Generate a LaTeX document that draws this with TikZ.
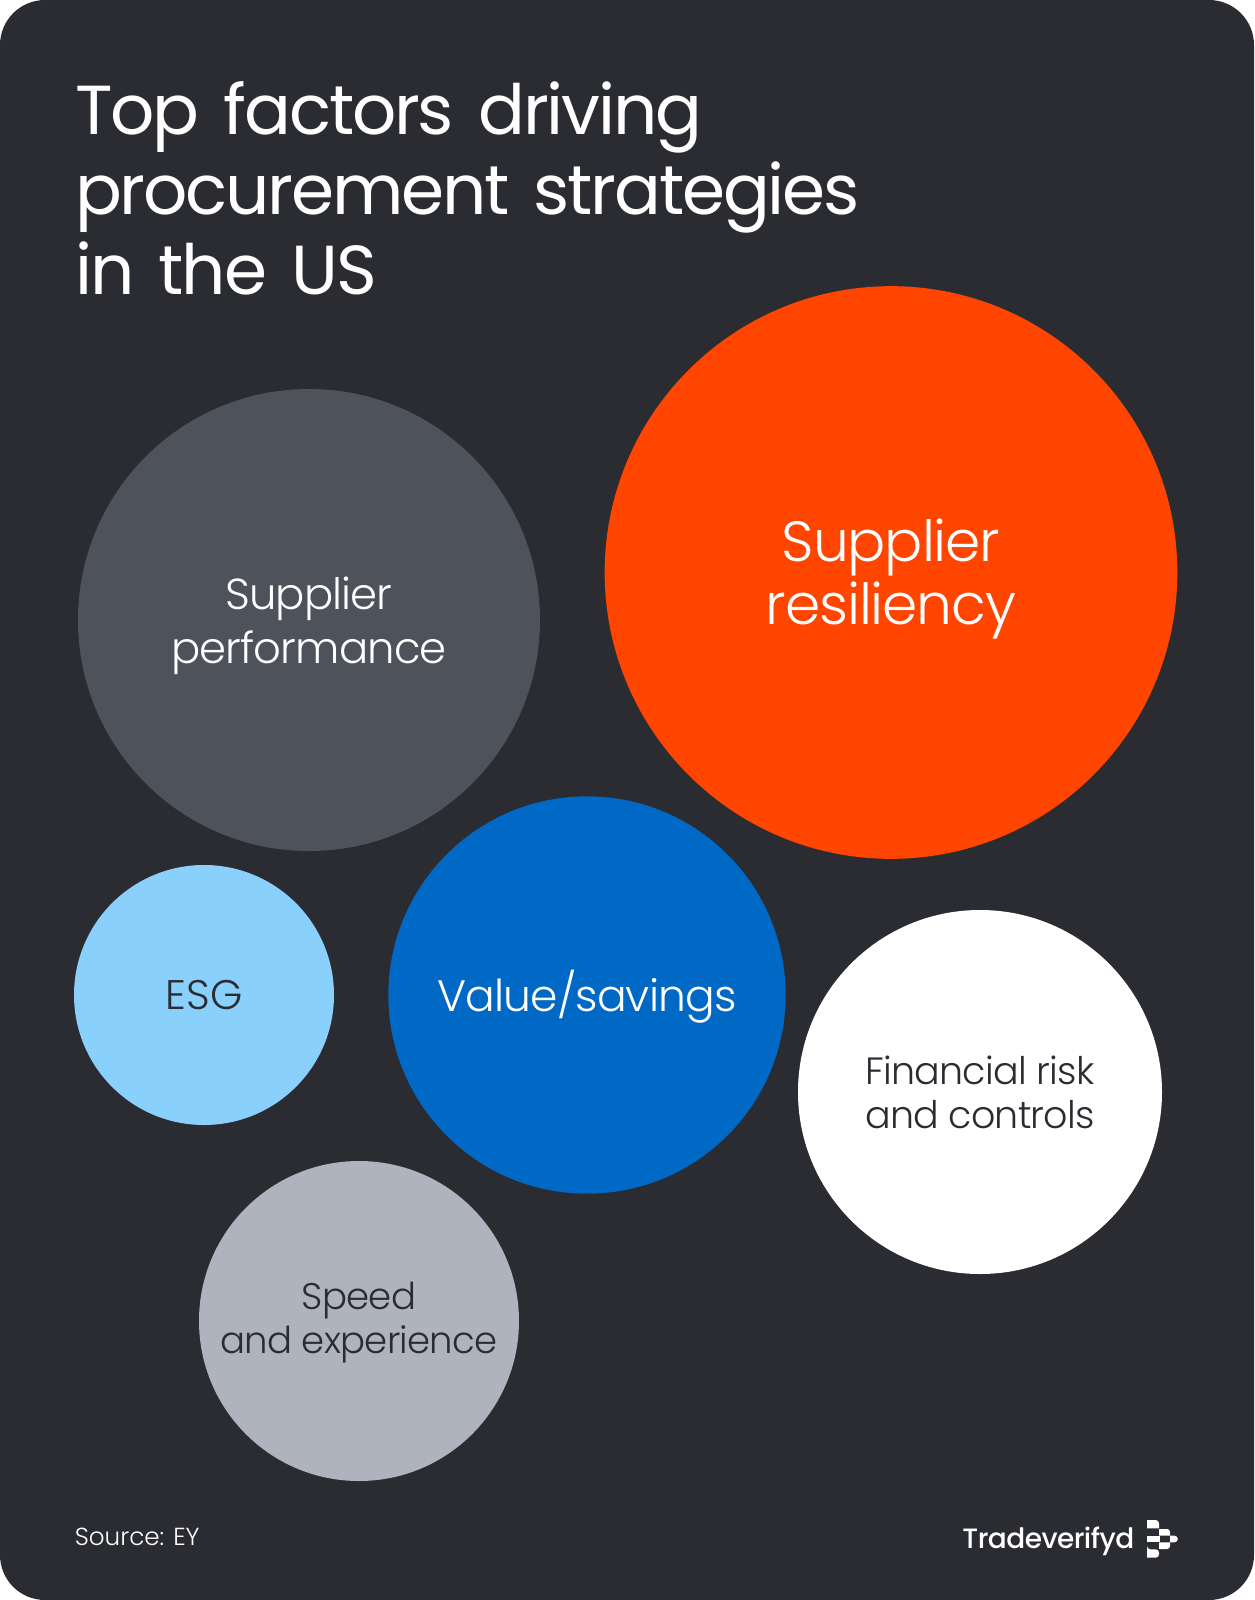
\documentclass[tikz,border=0pt]{standalone}
\usepackage{fontspec}
\setmainfont{Poppins Light}[LetterSpace=-2]
\newfontfamily\headfont{Poppins}[LetterSpace=-3.2,WordSpace=1.5]
\newfontfamily\brandfont{Poppins Medium}[LetterSpace=-2]
\newfontfamily\plainfont{Poppins Light}
\newcommand{\topgap}[1]{\rule{0pt}{#1pt}}
\definecolor{cardbg}{HTML}{2A2C32}
\definecolor{resilient}{HTML}{FF4500}
\definecolor{perform}{HTML}{4D525B}
\definecolor{esgblue}{HTML}{8AD0FC}
\definecolor{valueblue}{HTML}{0068C5}
\definecolor{speedgrey}{HTML}{AEB3BD}
\begin{document}
\begin{tikzpicture}[x=0.75pt, y=-0.75pt,
  bubble/.style = {circle, inner sep=0pt, align=center},
  title/.style = {anchor=north west, align=left, inner sep=0pt, text=white, font=\headfont\fontsize{52}{60}\selectfont},
  foot/.style = {inner sep=0pt, text=white},
  logo/.style = {fill=white, rounded corners=2.5pt}]
\useasboundingbox (0,0) rectangle (1254,1600);
\fill[cardbg] (0,0) [rounded corners=33.75pt] rectangle (1254,1600);
\node[title] (head) at (75,81) {Top factors driving\\procurement strategies\\in the US};
\node[bubble, fill=resilient, text=white, minimum size=429.5pt, font=\fontsize{42.5}{47}\selectfont] (res) at (891,572.5) {\topgap{42}Supplier\\resiliency};
\node[bubble, fill=perform, text=white, minimum size=346.5pt, font=\fontsize{32.5}{41}\selectfont] (perf) at (309,620) {\topgap{33}Supplier\\performance};
\node[bubble, fill=esgblue, text=cardbg, minimum size=195pt, font=\plainfont\fontsize{31}{33}\selectfont] (esg) at (204,995) {ESG};
\node[bubble, fill=valueblue, text=white, minimum size=298pt, font=\fontsize{33}{40}\selectfont] (value) at (587,995) {\topgap{33}Value/savings};
\node[bubble, fill=white, text=cardbg, minimum size=273pt, font=\fontsize{28.5}{33}\selectfont] (fin) at (980,1092) {Financial risk\\and controls};
\node[bubble, fill=speedgrey, text=cardbg, minimum size=240pt, font=\fontsize{27.8}{33}\selectfont] (speed) at (359,1321) {\topgap{23}Speed\\and experience};
\node[foot, anchor=west, font=\plainfont\fontsize{18.5}{20}\selectfont] (src) at (74.5,1537) {Source: EY};
\node[foot, anchor=east, font=\brandfont\fontsize{21}{24}\selectfont] (brand) at (1134.5,1541) {Tradeverifyd};
% logo
\fill[logo] (1147,1520) -- (1159,1520) [sharp corners] -- (1159,1528.3) -- (1147,1528.3) -- cycle;
\fill[logo] (1147,1549.3) -- (1147,1549.3) -- (1159,1549.3) -- (1159,1557.7) [sharp corners] -- (1147,1557.7) -- cycle;
\fill[white] (1147,1535.7) rectangle (1159.5,1542.3);
\fill[white] (1159,1529) -- (1167,1529) to[out=0,in=90] (1170,1532) -- (1170,1535.7) -- (1159,1535.7) -- cycle;
\fill[white] (1159,1542.3) -- (1170,1542.3) -- (1170,1546) to[out=-90,in=0] (1167,1549) -- (1159,1549) -- cycle;
\fill[white] (1170,1535.7) -- (1174.5,1535.7) to[out=0,in=0,looseness=1.7] (1174.5,1542.3) -- (1170,1542.3) -- cycle;
\end{tikzpicture}
\end{document}
